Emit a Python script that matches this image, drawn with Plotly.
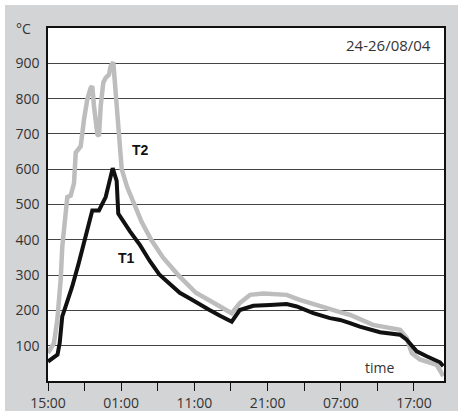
import plotly.graph_objects as go

# hours elapsed since 15:00 on 24/08/04
t1_hours = [0, 1.3, 1.6, 1.95, 2.4, 3.3, 4.2, 5.15, 6.05, 6.96, 7.88, 8.84, 9.38, 9.6,
            10.07, 11.2, 12.57, 13.9, 15.2, 16.6, 18.0, 19.5, 20.8, 22.0, 23.5, 25.1,
            26.2, 28.05, 30.33, 32.6, 33.97, 36.24, 38.52, 39.9, 41.26, 42.6, 45.36,
            48.09, 49.0, 50.37, 51.73, 53.55, 54.0]
t1_values = [55, 75, 108, 183, 211, 267, 334, 408, 483, 483, 521, 603, 567, 474,
             458, 424, 385, 340, 302, 275, 250, 232, 218, 202, 185, 168,
             201, 213, 215, 218, 211, 192, 178, 173, 164, 154, 138,
             131, 117, 84, 70, 53, 42]

t2_hours = [0.0, 0.82, 1.27, 1.73, 1.95, 2.19, 2.42, 2.64, 3.1, 3.55, 3.79, 4.47, 4.92,
            5.37, 5.83, 6.05, 6.28, 6.74, 6.96, 7.2, 7.55, 7.88, 8.33, 8.56, 8.92,
            9.29, 9.63, 10.07, 10.8, 11.8, 12.8, 14.1, 15.7, 17.8, 20.2, 21.9, 24.2,
            25.1, 26.2, 27.6, 29.4, 32.6, 34.4, 37.2, 39.9, 41.3, 44.4, 48.1, 49.0,
            49.7, 50.8, 53.1, 53.78, 54.0]
t2_values = [79, 108, 173, 286, 380, 436, 474, 521, 525, 560, 647, 665, 741,
             798, 830, 835, 779, 699, 694, 779, 845, 859, 868, 892, 903,
             800, 700, 600, 550, 500, 450, 400, 350, 300, 250, 230, 200,
             192, 221, 244, 248, 244, 230, 211, 195, 187, 159, 145, 122,
             79, 61, 46, 23, 14]

tick_positions = [0, 5, 10, 15, 20, 25, 30, 35, 40, 45, 50]
tick_labels = ["15:00", "", "01:00", "", "11:00", "", "21:00", "", "07:00", "", "17:00"]
y_ticks = [100, 200, 300, 400, 500, 600, 700, 800, 900]

FONT = "Open Sans"
TXT = "#333333"

fig = go.Figure()
fig.add_trace(go.Scatter(x=t2_hours, y=t2_values, mode="lines", name="T2",
                         line=dict(color="#bdbdbd", width=4.5), hoverinfo="skip"))
fig.add_trace(go.Scatter(x=t1_hours, y=t1_values, mode="lines", name="T1",
                         line=dict(color="#111111", width=4), hoverinfo="skip"))

fig.update_layout(
    width=458, height=411,
    margin=dict(l=48, r=14, t=28, b=30),
    paper_bgcolor="#d3d4d6",
    plot_bgcolor="white",
    showlegend=False,
    font=dict(family=FONT, size=14, color=TXT),
    xaxis=dict(range=[0, 54.1], tickvals=tick_positions, ticktext=tick_labels,
               ticks="outside", ticklen=8, tickcolor="#111", tickwidth=1.2,
               showgrid=False, zeroline=False, showline=True, linecolor="#111",
               linewidth=1.5, mirror=True, automargin=False,
               tickfont=dict(size=14, color=TXT)),
    yaxis=dict(range=[0, 1000], tickvals=y_ticks, ticks="", showgrid=True,
               gridcolor="#444444", gridwidth=1, zeroline=False, showline=True,
               linecolor="#111", linewidth=1.5, mirror=True, automargin=False,
               ticklabelstandoff=4, tickfont=dict(size=14, color=TXT)),
)

def px(x):
    return (x - 48) / 396

def py(y):
    return (381 - y) / 353

def label(x, y, text, **font):
    f = dict(size=14, color=TXT)
    f.update(font)
    fig.add_annotation(x=px(x), y=py(y), xref="paper", yref="paper", text=text,
                       xanchor="center", yanchor="middle", showarrow=False, font=f)

label(23, 28, "°C")
label(388, 45, "24-26/08/04", size=15)
label(379, 367, "time")
label(140, 150, "<b>T2</b>", color="#111", family="Liberation Sans")
label(126, 258, "<b>T1</b>", color="#111", family="Liberation Sans")

# thin white outer margins (top and left)
fig.add_shape(type="rect", xref="paper", yref="paper", x0=px(0), x1=px(458),
              y0=py(0), y1=py(5), fillcolor="white", line=dict(width=0), layer="above")
fig.add_shape(type="rect", xref="paper", yref="paper", x0=px(0), x1=px(5),
              y0=py(0), y1=py(411), fillcolor="white", line=dict(width=0), layer="above")

fig.write_html("out.html", config={"displayModeBar": False},
               post_script="document.body.style.margin='0';document.body.style.overflow='hidden';")
